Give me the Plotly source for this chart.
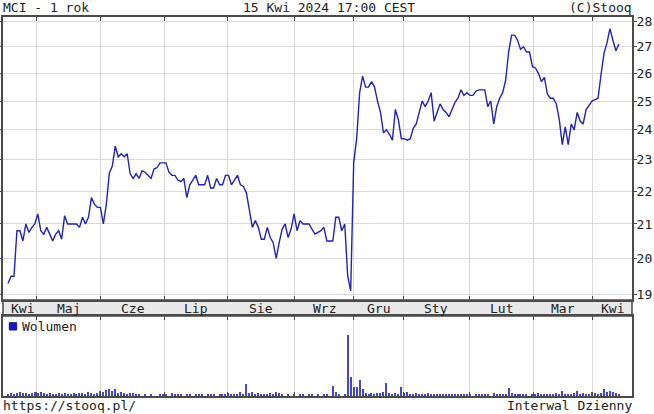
import plotly.graph_objects as go

# kurs zamkniecia (sesje od kwietnia 2023 do 15 kwietnia 2024, bez paz-lis)
price = [
    19.3, 19.5, 19.5, 20.8, 20.8, 20.5, 21.0, 20.75, 20.9, 21.0,
    21.3, 20.8, 20.7, 20.9, 20.7, 20.5, 20.7, 20.8, 20.55, 21.25,
    21.0, 21.0, 21.0, 21.0, 20.9, 21.2, 21.0, 21.2, 21.8, 21.6,
    21.5, 21.5, 21.0, 21.6, 22.57, 22.8, 23.45, 23.1, 23.2, 23.1,
    23.2, 22.55, 22.4, 22.55, 22.4, 22.65, 22.6, 22.5, 22.4, 22.7,
    22.75, 22.9, 22.9, 22.9, 22.6, 22.5, 22.5, 22.35, 22.3, 22.4,
    21.8, 22.2, 22.35, 22.5, 22.2, 22.2, 22.2, 22.5, 22.1, 22.1,
    22.4, 22.2, 22.2, 22.5, 22.5, 22.2, 22.35, 22.5, 22.2, 22.15,
    21.95, 21.4, 20.9, 21.1, 20.9, 20.55, 20.55, 20.9, 20.6, 20.45,
    20.0, 20.45, 20.85, 21.0, 20.6, 20.85, 21.3, 20.8, 21.1, 21.0,
    21.0, 21.0, 20.85, 20.7, 20.75, 20.8, 20.9, 20.5, 20.5, 20.5,
    21.2, 21.2, 20.8, 21.0, 19.5, 19.1, 22.9, 23.7, 25.3, 25.9,
    25.5, 25.5, 25.7, 25.5, 25.0, 24.6, 23.9, 24.0, 23.85, 23.65,
    24.7, 24.35, 23.7, 23.7, 23.65, 23.7, 24.05, 24.2, 24.6, 25.0,
    24.8, 25.0, 25.3, 24.3, 24.6, 24.9, 24.7, 24.6, 24.45, 24.7,
    24.95, 25.1, 25.4, 25.2, 25.3, 25.2, 25.2, 25.35, 25.4, 25.4,
    25.4, 24.8, 25.0, 24.2, 24.8, 25.1, 25.3, 25.75, 26.8, 27.45,
    27.45, 27.25, 26.9, 27.0, 26.8, 26.8, 26.25, 26.2, 26.0, 25.7,
    25.85, 25.25, 25.1, 25.1, 24.9, 24.35, 23.5, 24.1, 23.5, 24.2,
    24.0, 24.6, 24.3, 24.2, 24.7, 24.85, 25.0, 25.05, 25.1, 25.95,
    26.75, 27.15, 27.7, 27.25, 26.85, 27.1,
]

volume = [
    1, 3, 2, 3, 4, 3, 3, 2, 3, 4,
    3, 4, 3, 2, 3, 2, 2, 3, 2, 3,
    2, 2, 3, 2, 3, 3, 2, 4, 3, 2,
    3, 5, 4, 6, 7, 5, 7, 3, 4, 3,
    2, 3, 3, 2, 1, 0, 2, 0, 1, 0,
    0, 2, 1, 2, 0, 3, 1, 2, 1, 0,
    2, 1, 0, 1, 2, 1, 0, 2, 1, 1,
    0, 1, 2, 1, 3, 1, 2, 1, 4, 2,
    12, 3, 4, 2, 3, 1, 2, 2, 3, 1,
    4, 3, 2, 0, 1, 0, 1, 0, 1, 2,
    0, 1, 1, 0, 1, 0, 1, 2, 0, 10,
    4, 1, 0, 1, 60, 19, 9, 9, 16, 7,
    3, 2, 3, 2, 3, 3, 4, 13, 3, 2,
    3, 2, 9, 3, 4, 2, 2, 3, 1, 2,
    2, 3, 1, 2, 1, 1, 2, 1, 2, 1,
    2, 1, 1, 2, 1, 1, 0, 1, 2, 1,
    1, 2, 0, 3, 1, 2, 1, 2, 8, 3,
    2, 2, 1, 2, 1, 0, 2, 1, 3, 1,
    2, 2, 1, 2, 3, 2, 5, 2, 1, 2,
    3, 5, 2, 3, 1, 2, 4, 3, 1, 3,
    7, 4, 5, 4, 3, 2,
]

months = ["Kwi", "Maj", "Cze", "Lip", "Sie", "Wrz", "Gru", "Sty", "Lut", "Mar", "Kwi"]
month_starts = [9.7, 31.2, 52.4, 73.8, 96.0, 116.1, 132.6, 154.7, 176.2, 196.3]
price_ticks = [19, 20, 21, 22, 23, 24, 25, 26, 27, 28]

days = list(range(len(price)))
FONT = "DejaVu Sans Mono"
DARK = "#4a4a4a"
GRID = "#dadada"
xrange = [-1.68, 209.4]

fig = go.Figure()
fig.add_trace(go.Scatter(x=days, y=price, mode='lines', line=dict(color='#2323b4', width=1.4),
                         xaxis='x', yaxis='y', hoverinfo='skip'))
fig.add_trace(go.Bar(x=days, y=volume, width=0.38, marker=dict(color='#4646c8', line_width=0),
                     xaxis='x2', yaxis='y2', hoverinfo='skip'))

band_lo = 80 / 379
band_hi = 96 / 379

axis_x = dict(range=xrange, tickvals=month_starts, showticklabels=False, showgrid=True, gridcolor=GRID,
              gridwidth=1, ticks='inside', ticklen=4, tickcolor=DARK, showline=True, linecolor=DARK,
              linewidth=1.5, mirror='ticks', zeroline=False)

fig.update_layout(
    width=654, height=414, margin=dict(l=3, r=22, t=17, b=18, autoexpand=False),
    paper_bgcolor='white', plot_bgcolor='white', showlegend=False,
    font=dict(family=FONT, size=13, color='#222'),
    xaxis=dict(axis_x, domain=[0, 1], anchor='y'),
    xaxis2=dict(axis_x, domain=[0, 1], anchor='y2', matches='x'),
    yaxis=dict(domain=[band_hi, 1], type='log', range=[1.2754, 1.4497], tickvals=price_ticks,
               side='right', ticks='outside', ticklen=3, tickcolor=DARK, showgrid=True, gridcolor=GRID,
               showline=True, linecolor=DARK, linewidth=2, mirror='ticks', zeroline=False,
               ticklabelstandoff=-3, tickfont=dict(family=FONT, size=13, color='#222')),
    yaxis2=dict(domain=[0, band_lo], range=[0, max(volume) * 80 / 61], showticklabels=False,
                showgrid=False, ticks='', showline=True, linecolor=DARK, linewidth=2, mirror=True,
                zeroline=False),
    bargap=0,
)

# pasek z nazwami miesiecy
fig.add_shape(type='rect', xref='paper', yref='paper', x0=0, x1=1, y0=band_lo, y1=band_hi,
              fillcolor='#e8e8e8', line=dict(color=DARK, width=1.5), layer='below')
edges = [0] + month_starts + [xrange[1]]
for i, m in enumerate(months):
    fig.add_annotation(x=(edges[i] + edges[i + 1]) / 2, y=(band_lo + band_hi) / 2, xref='x', yref='paper',
                       text=m, showarrow=False, xanchor='center', yanchor='middle',
                       font=dict(family=FONT, size=13, color='#222'))

# legenda wolumenu
fig.add_shape(type='rect', xref='paper', yref='paper', x0=6.3 / 629, x1=13.7 / 629,
              y0=(396 - 330) / 379, y1=(396 - 322.7) / 379, fillcolor='#1414c8',
              line=dict(color='#1a1a60', width=1))
fig.add_annotation(x=16.5 / 629, y=(396 - 326.5) / 379, xref='paper', yref='paper', text="Wolumen",
                   showarrow=False, xanchor='left', yanchor='middle')

# naglowek i stopka
fig.add_annotation(x=0, y=1, xref='paper', yref='paper', text="MCI - 1 rok", showarrow=False,
                   xanchor='left', yanchor='bottom', xshift=-2)
fig.add_annotation(x=0.519, y=1, xref='paper', yref='paper', text="15 Kwi 2024 17:00 CEST",
                   showarrow=False, xanchor='center', yanchor='bottom')
fig.add_annotation(x=1, y=1, xref='paper', yref='paper', text="(C)Stooq", showarrow=False,
                   xanchor='right', yanchor='bottom', xshift=2)
fig.add_annotation(x=0, y=0, xref='paper', yref='paper', text="https://stooq.pl/", showarrow=False,
                   xanchor='left', yanchor='top', xshift=-2)
fig.add_annotation(x=1, y=0, xref='paper', yref='paper', text="Interwal Dzienny", showarrow=False,
                   xanchor='right', yanchor='top', xshift=2)

fig.write_html("out.html", config={'displayModeBar': False},
               post_script="document.body.style.margin='0';")
